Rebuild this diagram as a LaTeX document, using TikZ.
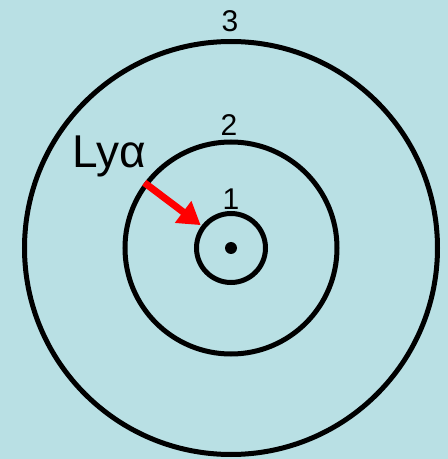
\documentclass[tikz,border=0pt]{standalone}
\usepackage{fontspec}
\setmainfont{Liberation Sans}
\usetikzlibrary{arrows.meta}
\definecolor{bgblue}{RGB}{185,224,228}
\definecolor{arrred}{RGB}{255,0,0}
\begin{document}
\begin{tikzpicture}[x=1pt,y=1pt,
  orbit/.style={circle,draw=black,line width=5pt,inner sep=0pt},
  lvl/.style={font=\fontsize{30}{30}\selectfont,inner sep=0pt,anchor=base},
  trans/.style={draw=arrred,line width=7pt,-{Triangle[length=22pt,width=26pt]},shorten >=1pt}]
\fill[bgblue] (0,0) rectangle (448,459);
\useasboundingbox (0,0) rectangle (448,459);
\node[orbit,minimum size=413pt] (outer) at (231,211) {};
\node[orbit,minimum size=212pt] (mid) at (231,211) {};
\node[orbit,minimum size=69pt] (inner) at (231,211) {};
\node[circle,fill=black,inner sep=0pt,minimum size=12pt] (nucleus) at (231,211) {};
\node[lvl] (l3) at (230,427) {3};
\node[lvl] (l2) at (229,323) {2};
\node[lvl] (l1) at (231,249) {1};
\node[font=\fontsize{46}{46}\selectfont,inner sep=0pt,anchor=base west] (lya) at (72,291) {Lyα};
\draw[trans] (mid.143) -- (inner.143);
\end{tikzpicture}
\end{document}
